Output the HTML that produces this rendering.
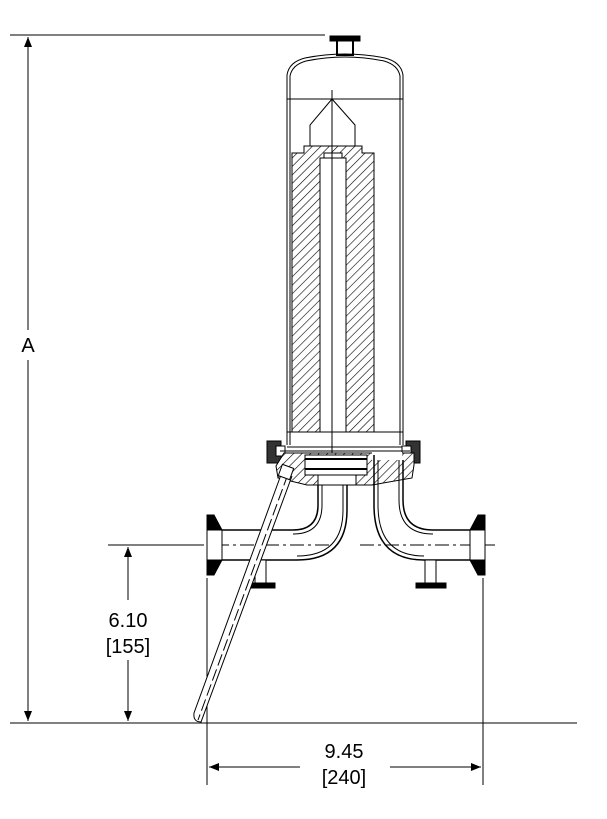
<!DOCTYPE html>
<html><head><style>body{margin:0;background:#fff}svg{display:block}</style></head><body>
<svg width="607" height="819" viewBox="0 0 607 819" xmlns="http://www.w3.org/2000/svg" font-family="Liberation Sans, sans-serif">
<defs>
<pattern id="h" width="6" height="6" patternUnits="userSpaceOnUse" patternTransform="rotate(45)">
<rect width="6" height="6" fill="#fff"/><line x1="0" y1="0" x2="0" y2="6" stroke="#000" stroke-width="1.2"/></pattern>
<marker id="a" markerWidth="10" markerHeight="8" refX="10" refY="4" orient="auto" markerUnits="userSpaceOnUse"><path d="M0,0 L10,4 L0,8 z"/></marker>
</defs>
<g stroke="#000" fill="none" stroke-width="1">
<!-- dimension A -->
<line x1="10" y1="35" x2="325" y2="35"/>
<line x1="28" y1="330" x2="28" y2="37" marker-end="url(#a)"/>
<line x1="28" y1="360" x2="28" y2="721" marker-end="url(#a)"/>
<line x1="10" y1="723" x2="577" y2="723"/>
<!-- 6.10 -->
<line x1="108" y1="545" x2="200" y2="545"/>
<line x1="128" y1="600" x2="128" y2="547" marker-end="url(#a)"/>
<line x1="128" y1="660" x2="128" y2="721" marker-end="url(#a)"/>
<!-- 9.45 -->
<line x1="207" y1="578" x2="207" y2="785"/>
<line x1="483" y1="578" x2="483" y2="785"/>
<line x1="300" y1="767" x2="209" y2="767" marker-end="url(#a)"/>
<line x1="390" y1="767" x2="481" y2="767" marker-end="url(#a)"/>
<!-- top ferrule -->
<rect x="337" y="40" width="16" height="15" stroke-width="2"/>
<rect x="330" y="36" width="30" height="5" fill="#000"/>
<!-- vessel -->
<path d="M287,445 L287,75 Q289,62 305,58 Q345,50 385,58 Q401,62 403,75 L403,445"/>
<path d="M290,445 L290,76 Q292,65 306,61 Q345,53 384,61 Q398,65 400,76 L400,445"/>
<line x1="287" y1="99" x2="403" y2="99"/>
<line x1="332" y1="90" x2="332" y2="455"/>
<path d="M332,99 L310,125 L310,146 M332,99 L355,125 L355,146"/>
<!-- filter -->
<path d="M292,432 L292,153 L304,153 L304,146 L362,146 L362,153 L374,153 L374,432 Z" fill="url(#h)"/>
<rect x="320" y="158" width="26" height="274" fill="#fff"/>
<rect x="324" y="153" width="18" height="5" fill="#fff"/>
<line x1="332" y1="146" x2="332" y2="455"/>
<line x1="287" y1="432" x2="403" y2="432"/>
<line x1="287" y1="447" x2="403" y2="447"/>
<!-- clamps -->
<rect x="267" y="441" width="14" height="22" fill="#333"/>
<rect x="406" y="441" width="14" height="22" fill="#333"/>
<rect x="276" y="446" width="9" height="10" fill="#fff"/>
<rect x="402" y="446" width="9" height="10" fill="#fff"/>
<line x1="280" y1="451" x2="410" y2="451"/>
<!-- head -->
<path d="M284,453 L414,453 L414,465 L412,478 L372,485 L307,485 L278,478 L276,466 Z" fill="url(#h)"/>
<rect x="305" y="455" width="62" height="20" fill="#fff"/>
<line x1="305" y1="459" x2="367" y2="459" stroke-width="2"/>
<line x1="305" y1="469" x2="367" y2="469" stroke-width="2"/>
<rect x="318" y="475" width="38" height="10" fill="#fff"/>
<rect x="372" y="452" width="30" height="8" fill="#fff" stroke="none"/>
<!-- left pipe -->
<path d="M318,485 L318,505 Q318,530 293,530 L222,530 M347,485 L347,510 Q347,560 297,560 L222,560" stroke-width="1.5"/>
<path d="M322,485 L322,505 Q322,534 293,534 M343,485 L343,510 Q343,556 297,556"/>
<!-- right pipe -->
<path d="M374,455 L374,505 Q374,560 424,560 L470,560 M403,460 L403,500 Q403,530 433,530 L470,530" stroke-width="1.5"/>
<path d="M378,460 L378,505 Q378,556 424,556 M399,460 L399,500 Q399,534 433,534"/>
<g stroke-dasharray="14,4,3,4">
<line x1="190" y1="545" x2="330" y2="545"/>
<line x1="360" y1="545" x2="495" y2="545"/>
</g>
<!-- ferrules -->
<rect x="207" y="530" width="15" height="30" fill="#fff"/>
<path d="M207,515 L214,515 L222,530 L207,530 Z M207,560 L222,560 L214,575 L207,575 Z" fill="#000"/>
<rect x="470" y="530" width="15" height="30" fill="#fff"/>
<path d="M485,515 L478,515 L470,530 L485,530 Z M485,560 L470,560 L478,575 L485,575 Z" fill="#000"/>
<!-- drains -->
<rect x="255" y="560" width="11" height="24" fill="#fff"/>
<rect x="245" y="583" width="30" height="5" fill="#000"/>
<rect x="425" y="560" width="11" height="24" fill="#fff"/>
<rect x="416" y="583" width="30" height="5" fill="#000"/>
<!-- diagonal tube -->
<path d="M282,472 L194,713 Q193,722 201,722 L292,476" fill="#fff"/>
<line x1="288" y1="474" x2="198" y2="720" stroke-dasharray="12,4"/>
<rect x="280" y="466" width="12" height="12" transform="rotate(20 286 472)" fill="#fff"/>
</g>
<g font-size="20" text-anchor="middle" fill="#000">
<text x="28" y="352">A</text>
<text x="128" y="627">6.10</text>
<text x="128" y="653">[155]</text>
<text x="344" y="758">9.45</text>
<text x="344" y="784">[240]</text>
</g>
</svg>
</body></html>
